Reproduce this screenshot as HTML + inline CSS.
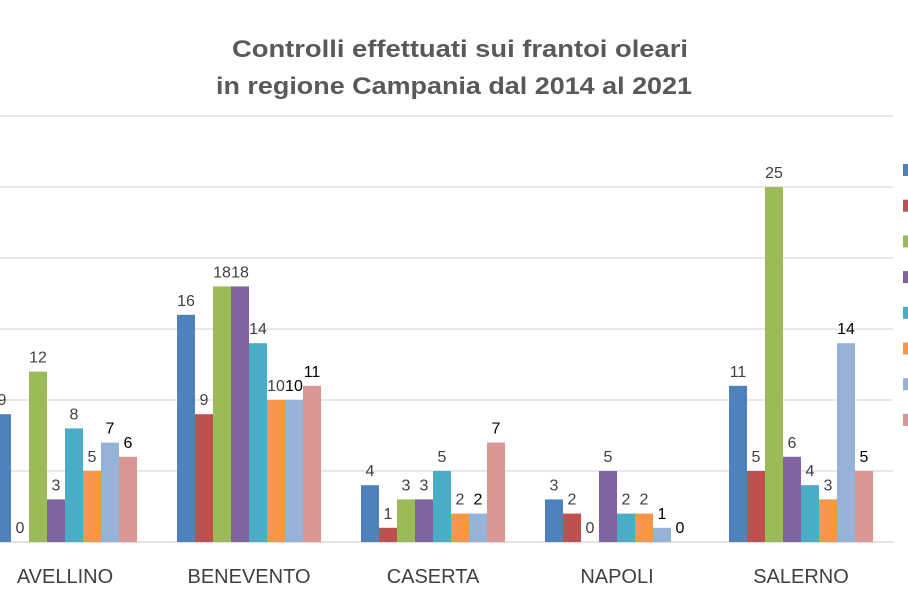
<!DOCTYPE html>
<html><head><meta charset="utf-8"><style>
body{margin:0;background:#fff;}
svg{display:block;font-family:"Liberation Sans",sans-serif;}
</style></head><body>
<svg id="chart" width="908" height="606" viewBox="0 0 908 606">
<text x="460" y="57" text-anchor="middle" font-size="24" font-weight="bold" fill="#595959" textLength="456" lengthAdjust="spacingAndGlyphs">Controlli effettuati sui  frantoi oleari</text>
<text x="454" y="94" text-anchor="middle" font-size="24" font-weight="bold" fill="#595959" textLength="476" lengthAdjust="spacingAndGlyphs">in regione  Campania dal  2014 al 2021</text>
<g id="grid"></g>
<g id="bars"></g>
<g id="labels"></g>
<g id="cats"></g>
<g id="legend"></g>
</svg>
<script>
const categories=["AVELLINO","BENEVENTO","CASERTA","NAPOLI","SALERNO"];
const s2014=[9,16,4,3,11];
const s2015=[0,9,1,2,5];
const s2016=[12,18,3,0,25];
const s2017=[3,18,3,5,6];
const s2018=[8,14,5,2,4];
const s2019=[5,10,2,2,3];
const s2020=[7,10,2,1,14];
const s2021=[6,11,7,0,5];
const gridTicks=[0,5,10,15,20,25,30];
const series=[s2014,s2015,s2016,s2017,s2018,s2019,s2020,s2021];
const colors=["#4F81BD","#C0504D","#9BBB59","#8064A2","#4BACC6","#F79646","#95B3D7","#D99694"];
const labelColors=["#404040","#404040","#404040","#404040","#404040","#404040","#000","#000"];
const NS="http://www.w3.org/2000/svg";
const base=542, pxPerUnit=14.2;
const y=v=>base-v*pxPerUnit;
const groupStart=i=>-7+i*184;
const barW=18;
function mk(tag,attrs,parent){const e=document.createElementNS(NS,tag);for(const k in attrs)e.setAttribute(k,attrs[k]);parent.appendChild(e);return e;}
const grid=document.getElementById('grid');
gridTicks.forEach(t=>{
  const l=mk('line',{x1:0,x2:893,y1:y(t),y2:y(t),stroke:"#D9D9D9","stroke-width":t===0?1.5:1.2},grid);
  
  
});
const bars=document.getElementById('bars'),labels=document.getElementById('labels'),cats=document.getElementById('cats');
categories.forEach((c,i)=>{
  series.forEach((s,j)=>{
    const x=groupStart(i)+j*barW,v=s[i];
    const r=mk('rect',{x:x,y:y(v),width:barW,height:v*pxPerUnit,fill:colors[j]},bars);
    
    
    const t=mk('text',{x:x+barW/2,y:y(v)-9,"text-anchor":"middle","font-size":16,fill:labelColors[j]},labels);
    t.textContent=v;
    
    
  });
  const ct=mk('text',{x:groupStart(i)+72,y:583,"text-anchor":"middle","font-size":20,fill:"#404040"},cats);
  ct.textContent=c;
  
  
});
const legend=document.getElementById('legend');
colors.forEach((col,j)=>{
  const r=mk('rect',{x:903,y:164+j*35.7,width:12,height:12,fill:col},legend);
  
  
});
</script>
</body></html>
